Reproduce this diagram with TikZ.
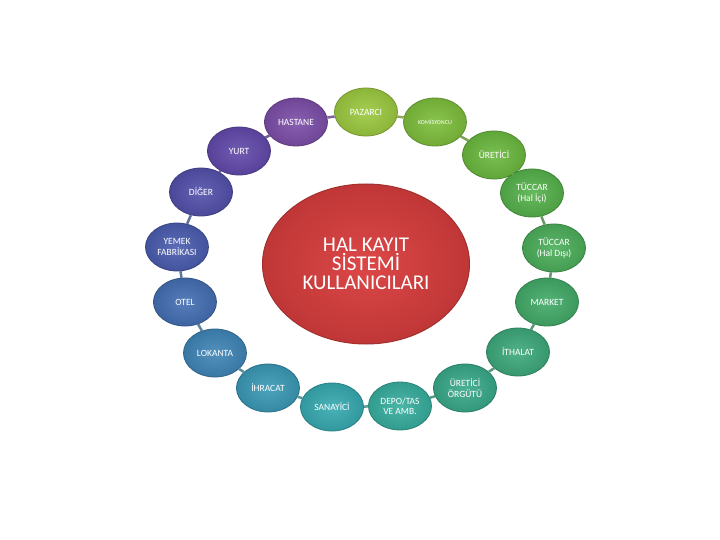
\documentclass[tikz,border=0pt]{standalone}
\usepackage{fontspec}
\setmainfont{Carlito}
\usetikzlibrary{shapes.geometric}

\tikzset{
	user/.style={ellipse, minimum width=63pt, minimum height=48pt, inner sep=0pt,
		inner color=#1!90!white, outer color=#1!90!black, draw=#1!75!black, line width=0.8pt,
		text=white, align=center, font=\fontsize{9.5}{10.5}\selectfont},
	hub/.style={ellipse, minimum width=207pt, minimum height=160pt, inner sep=0pt,
		inner color=#1!95!white, outer color=#1!88!black, draw=#1!75!black, line width=1pt,
		text=white, align=center, font=\fontsize{21}{19}\selectfont},
	link/.style={draw=#1!55!gray, line width=2.5pt}
}

\begin{document}
\begin{tikzpicture}[x=1pt,y=-1pt]

		\definecolor{redHub}{RGB}{218,62,62}
		\definecolor{cPaz}{RGB}{155,201,63}
		\definecolor{cKom}{RGB}{125,190,60}
		\definecolor{cUre}{RGB}{106,184,62}
		\definecolor{cTic}{RGB}{85,177,74}
		\definecolor{cTid}{RGB}{75,174,90}
		\definecolor{cMar}{RGB}{67,170,104}
		\definecolor{cIth}{RGB}{61,168,122}
		\definecolor{cOrg}{RGB}{56,168,137}
		\definecolor{cDep}{RGB}{55,174,158}
		\definecolor{cSan}{RGB}{55,169,176}
		\definecolor{cIhr}{RGB}{58,152,181}
		\definecolor{cLok}{RGB}{63,132,182}
		\definecolor{cOte}{RGB}{68,111,178}
		\definecolor{cYem}{RGB}{74,92,174}
		\definecolor{cDig}{RGB}{83,80,170}
		\definecolor{cYur}{RGB}{98,73,170}
		\definecolor{cHas}{RGB}{124,78,168}

		\useasboundingbox (0,0) rectangle (720,540);

		%\draw[step=50,gray,very thin] (0,0) grid (720,540);

		\node[hub=redHub] (hub) at (366,264) {HAL KAYIT\\SİSTEMİ\\KULLANICILARI};

		\node[user=cPaz] (paz) at (366,112) {PAZARCI};
		\node[user=cKom, font=\fontsize{6}{7}\selectfont] (kom) at (435,122) {KOMİSYONCU};
		\node[user=cUre] (ure) at (494,155) {ÜRETİCİ};
		\node[user=cTic] (tic) at (532,193) {TÜCCAR\\(Hal İçi)};
		\node[user=cTid] (tid) at (554,248) {TÜCCAR\\(Hal Dışı)};
		\node[user=cMar] (mar) at (547,302) {MARKET};
		\node[user=cIth] (ith) at (518,352) {İTHALAT};
		\node[user=cOrg] (org) at (465,388) {ÜRETİCİ\\ÖRGÜTÜ};
		\node[user=cDep] (dep) at (400,406) {DEPO/TAS\\VE AMB.};
		\node[user=cSan] (san) at (332,407) {SANAYİCİ};
		\node[user=cIhr] (ihr) at (268,388) {İHRACAT};
		\node[user=cLok] (lok) at (215,353) {LOKANTA};
		\node[user=cOte] (ote) at (185,302) {OTEL};
		\node[user=cYem] (yem) at (177,247) {YEMEK\\FABRİKASI};
		\node[user=cDig] (dig) at (201,192) {DİĞER};
		\node[user=cYur] (yur) at (239,151) {YURT};
		\node[user=cHas] (has) at (296,122) {HASTANE};

		% ring between the users
		\draw[link=cPaz] (paz) -- (kom);
		\draw[link=cKom] (kom) -- (ure);
		\draw[link=cUre] (ure) -- (tic);
		\draw[link=cTic] (tic) -- (tid);
		\draw[link=cTid] (tid) -- (mar);
		\draw[link=cMar] (mar) -- (ith);
		\draw[link=cIth] (ith) -- (org);
		\draw[link=cOrg] (org) -- (dep);
		\draw[link=cDep] (dep) -- (san);
		\draw[link=cSan] (san) -- (ihr);
		\draw[link=cIhr] (ihr) -- (lok);
		\draw[link=cLok] (lok) -- (ote);
		\draw[link=cOte] (ote) -- (yem);
		\draw[link=cYem] (yem) -- (dig);
		\draw[link=cDig] (dig) -- (yur);
		\draw[link=cYur] (yur) -- (has);
		\draw[link=cHas] (has) -- (paz);

\end{tikzpicture}
\end{document}
